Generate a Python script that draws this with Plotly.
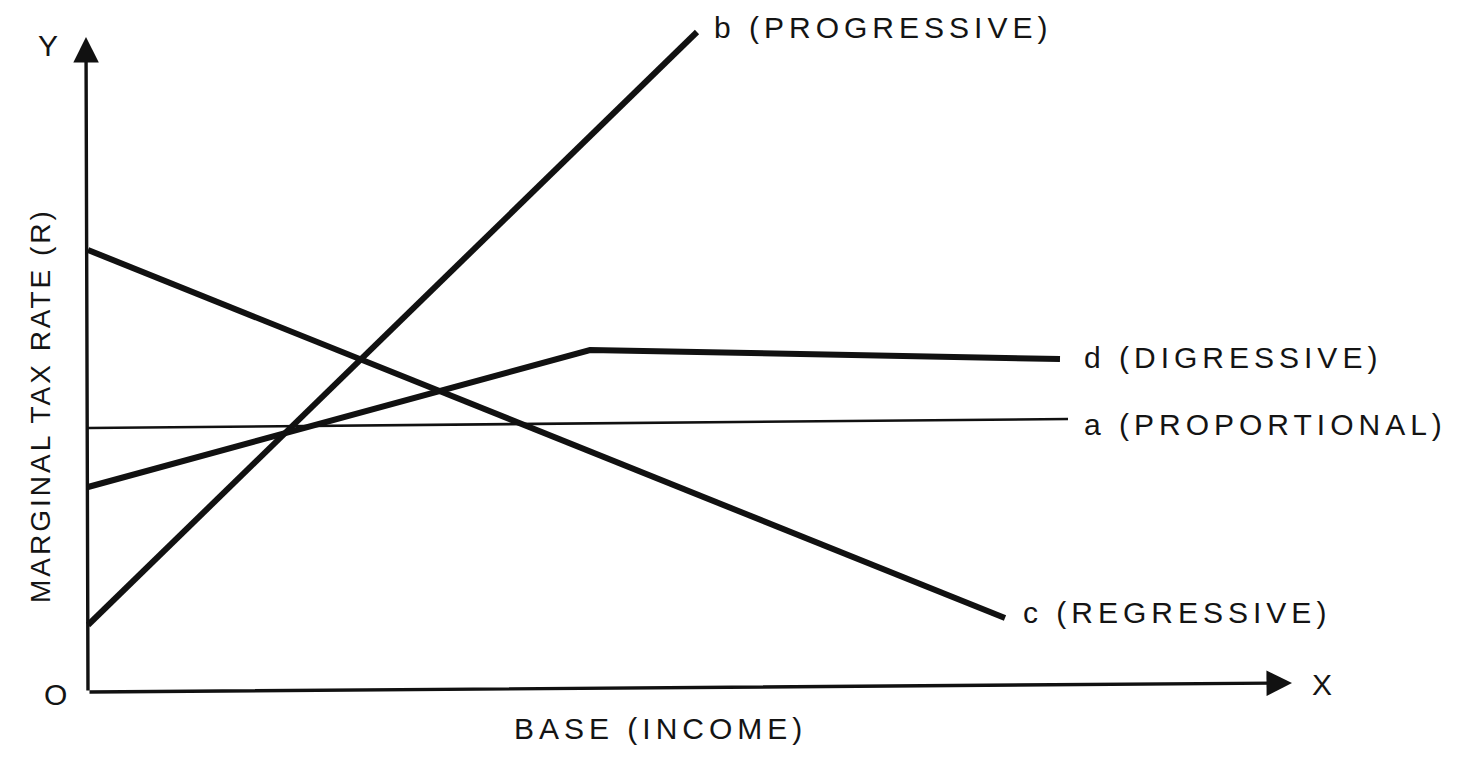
import plotly.graph_objects as go

# ---- data (abstract units: base income vs marginal tax rate) ----
b_x = [0.0, 6.09]
b_y = [0.67, 6.60]
c_x = [0.0, 9.17]
c_y = [4.42, 0.74]
d_x = [0.0, 5.02, 9.72]
d_y = [2.05, 3.42, 3.33]
a_x = [0.0, 9.80]
a_y = [2.64, 2.73]

labels = {
    "b": "b (PROGRESSIVE)",
    "c": "c (REGRESSIVE)",
    "d": "d (DIGRESSIVE)",
    "a": "a (PROPORTIONAL)",
}
x_title = "BASE (INCOME)"
y_title = "MARGINAL TAX RATE (R)"
axis_x_end = [12.04, 0.09]
axis_y_end = [-0.02, 6.55]

ink = "#111111"
txt = "#141414"
FONT = "Liberation Sans, Arial, sans-serif"

def spaced(s, px):
    return f'<span style="letter-spacing:{px}px">{s}</span>'

fig = go.Figure()
for xs, ys, w in [(b_x, b_y, 6), (c_x, c_y, 6), (d_x, d_y, 6), (a_x, a_y, 2.6)]:
    fig.add_trace(go.Scatter(x=xs, y=ys, mode="lines",
                             line=dict(color=ink, width=w),
                             hoverinfo="skip", showlegend=False))

ann = []
# axes with arrows
for hx, hy in [axis_x_end, axis_y_end]:
    ann.append(dict(x=hx, y=hy, ax=0, ay=0, xref="x", yref="y", axref="x", ayref="y",
                    text="", showarrow=True, arrowhead=2, arrowsize=1.5,
                    arrowwidth=3.4, arrowcolor=ink))

def lab(text, x, y, size=30, spacing=5, xanchor="left"):
    ann.append(dict(x=x, y=y, xref="x", yref="y", text=spaced(text, spacing),
                    showarrow=False, xanchor=xanchor, yanchor="middle",
                    font=dict(family=FONT, size=size, color=txt)))

lab(labels["b"], b_x[-1] + 0.15, b_y[-1] + 0.05)
lab(labels["d"], d_x[-1] + 0.22, d_y[-1] + 0.02)
lab(labels["a"], a_x[-1] + 0.14, a_y[-1] - 0.05)
lab(labels["c"], c_x[-1] + 0.16, c_y[-1] + 0.06)
lab(x_title, 5.72, -0.36, xanchor="center")
lab("X", axis_x_end[0] + 0.30, axis_x_end[1] - 0.01, spacing=0, xanchor="center")
lab("Y", -0.40, 6.47, spacing=0, xanchor="center")
lab("O", -0.33, -0.02, spacing=0, xanchor="center")
ann.append(dict(x=-0.48, y=2.86, xref="x", yref="y", text=spaced(y_title, 3),
                showarrow=False, textangle=-90, xanchor="center", yanchor="middle",
                font=dict(family=FONT, size=28, color=txt)))

# page body has an 8px margin, so the figure is 8px smaller and ranges offset accordingly
fig.update_layout(
    width=1452, height=749,
    margin=dict(l=0, r=0, t=0, b=0),
    paper_bgcolor="white", plot_bgcolor="white",
    xaxis=dict(range=[-0.80, 13.72], visible=False, fixedrange=True),
    yaxis=dict(range=[-0.65, 6.84], visible=False, fixedrange=True),
    annotations=ann,
    showlegend=False,
)
fig.write_html("out.html")
